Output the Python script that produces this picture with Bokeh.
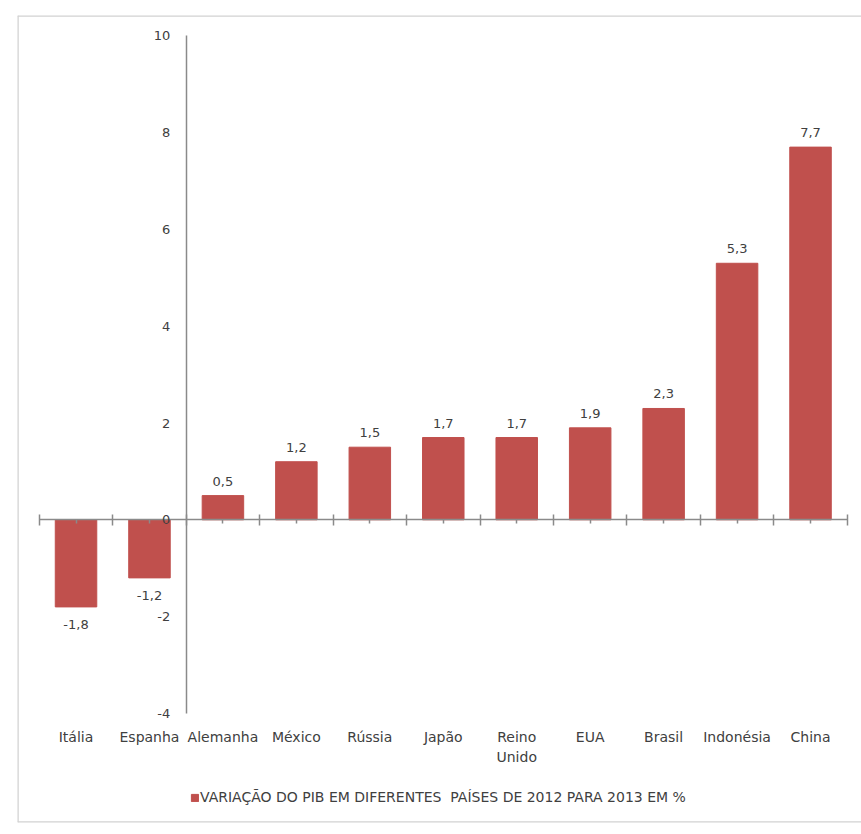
from bokeh.plotting import figure
from bokeh.models import (Range1d, LinearAxis, FixedTicker, Legend, LegendItem,
                          ColumnDataSource, Span)
from bokeh.core.properties import value
from bokeh.embed import file_html
from bokeh.resources import INLINE

# Data
paises = ["Itália", "Espanha", "Alemanha", "México", "Rússia", "Japão",
          "Reino\nUnido", "EUA", "Brasil", "Indonésia", "China"]
variacao = [-1.8, -1.2, 0.5, 1.2, 1.5, 1.7, 1.7, 1.9, 2.3, 5.3, 7.7]
y_ticks = [-4, -2, 0, 2, 4, 6, 8, 10]
serie = "VARIAÇÃO DO PIB EM DIFERENTES  PAÍSES DE 2012 PARA 2013 EM %"

# Page layout (pixels)
W, H = 861, 834
BOX_L, BOX_T, BOX_B = 17, 15, 822          # chart-area border
AX_X0, CAT_W = 38.8, 73.45                 # left end of category axis, px per category
Y0_PX, UNIT_PX = 519.3, 48.4               # pixel row of zero, px per unit

FONT = "DejaVu Sans"
TXT = "#404040"
AXIS_COL = "#8a8a8a"
BAR_COL = "#C0504D"
BORDER_COL = "#d2d2d2"

n = len(paises)
pos = list(range(n))
rotulos = [f"{v:.1f}".replace(".", ",") for v in variacao]

x_lo = -0.5 - (AX_X0 - BOX_L) / CAT_W
x_hi = -0.5 + (W - AX_X0) / CAT_W
y_hi = (Y0_PX - BOX_T) / UNIT_PX
y_lo = -(BOX_B - Y0_PX) / UNIT_PX

src = ColumnDataSource(dict(x=pos, top=variacao))
pos_src = ColumnDataSource(dict(
    x=[x for x, v in zip(pos, variacao) if v >= 0],
    y=[v for v in variacao if v >= 0],
    label=[l for l, v in zip(rotulos, variacao) if v >= 0]))
neg_src = ColumnDataSource(dict(
    x=[x for x, v in zip(pos, variacao) if v < 0],
    y=[v for v in variacao if v < 0],
    label=[l for l, v in zip(rotulos, variacao) if v < 0]))

p = figure(width=W, height=H,
           x_range=Range1d(x_lo, x_hi), y_range=Range1d(y_lo, y_hi),
           x_axis_location=None, y_axis_location=None,
           toolbar_location=None, output_backend="svg",
           min_border_left=BOX_L, min_border_right=0,
           min_border_top=BOX_T, min_border_bottom=H - BOX_B)
p.outline_line_color = None
p.grid.grid_line_color = None
p.background_fill_color = "white"
p.border_fill_color = "white"

# Chart-area border: left, top and bottom edges (right edge runs off the page)
for loc, dim in ((x_lo, "height"), (y_hi, "width"), (y_lo, "width")):
    p.add_layout(Span(location=loc, dimension=dim,
                      line_color=BORDER_COL, line_width=2.5))

# Value axis, crossing the category axis between Espanha and Alemanha
yax = LinearAxis(ticker=FixedTicker(ticks=y_ticks), fixed_location=1.5,
                 bounds=(min(y_ticks), max(y_ticks)),
                 major_label_overrides={t: str(t) for t in y_ticks},
                 axis_line_color=AXIS_COL, axis_line_width=1.5,
                 major_tick_line_color=None, minor_tick_line_color=None,
                 major_tick_in=0, major_tick_out=0,
                 major_label_standoff=16,
                 major_label_text_font=FONT, major_label_text_font_size="13px",
                 major_label_text_color=TXT)
p.add_layout(yax, "left")

# Category axis line at zero, ticks between categories
bounds = [i - 0.5 for i in range(n + 1)]
xax = LinearAxis(ticker=FixedTicker(ticks=bounds, minor_ticks=pos),
                 fixed_location=0, bounds=(-0.5, n - 0.5),
                 axis_line_color=AXIS_COL, axis_line_width=1.5,
                 major_tick_line_color=AXIS_COL, major_tick_line_width=1.5,
                 major_tick_in=5, major_tick_out=6,
                 minor_tick_line_color=AXIS_COL, minor_tick_line_width=1.5,
                 minor_tick_in=0, minor_tick_out=4,
                 major_label_text_color=None, major_label_text_font_size="1px")
p.add_layout(xax, "below")

# Category names below the bottom of the value axis
cax = LinearAxis(ticker=FixedTicker(ticks=pos), fixed_location=min(y_ticks),
                 major_label_overrides={i: name for i, name in enumerate(paises)},
                 axis_line_color=None, major_tick_line_color=None,
                 minor_tick_line_color=None,
                 major_tick_in=0, major_tick_out=0,
                 major_label_standoff=16,
                 major_label_text_font=FONT, major_label_text_font_size="14px",
                 major_label_text_color=TXT)
p.add_layout(cax, "below")

bars = p.vbar(x="x", top="top", bottom=0, width=0.565, source=src,
              fill_color=BAR_COL, line_color=BAR_COL)

p.text(x="x", y="y", text="label", source=pos_src,
       text_align="center", text_baseline="bottom", y_offset=-10,
       text_font=value(FONT), text_font_size="13px", text_color=TXT)
p.text(x="x", y="y", text="label", source=neg_src,
       text_align="center", text_baseline="top", y_offset=13,
       text_font=value(FONT), text_font_size="13px", text_color=TXT)

legend = Legend(items=[LegendItem(label=serie, renderers=[bars])],
                location=(173, 17), orientation="horizontal",
                border_line_color=None, background_fill_alpha=0,
                label_text_font=FONT, label_text_font_size="14px",
                label_text_color=TXT, glyph_width=9, glyph_height=9,
                label_standoff=1, padding=0, margin=0)
p.add_layout(legend, "center")

open("out.html", "w").write(file_html(p, INLINE))
